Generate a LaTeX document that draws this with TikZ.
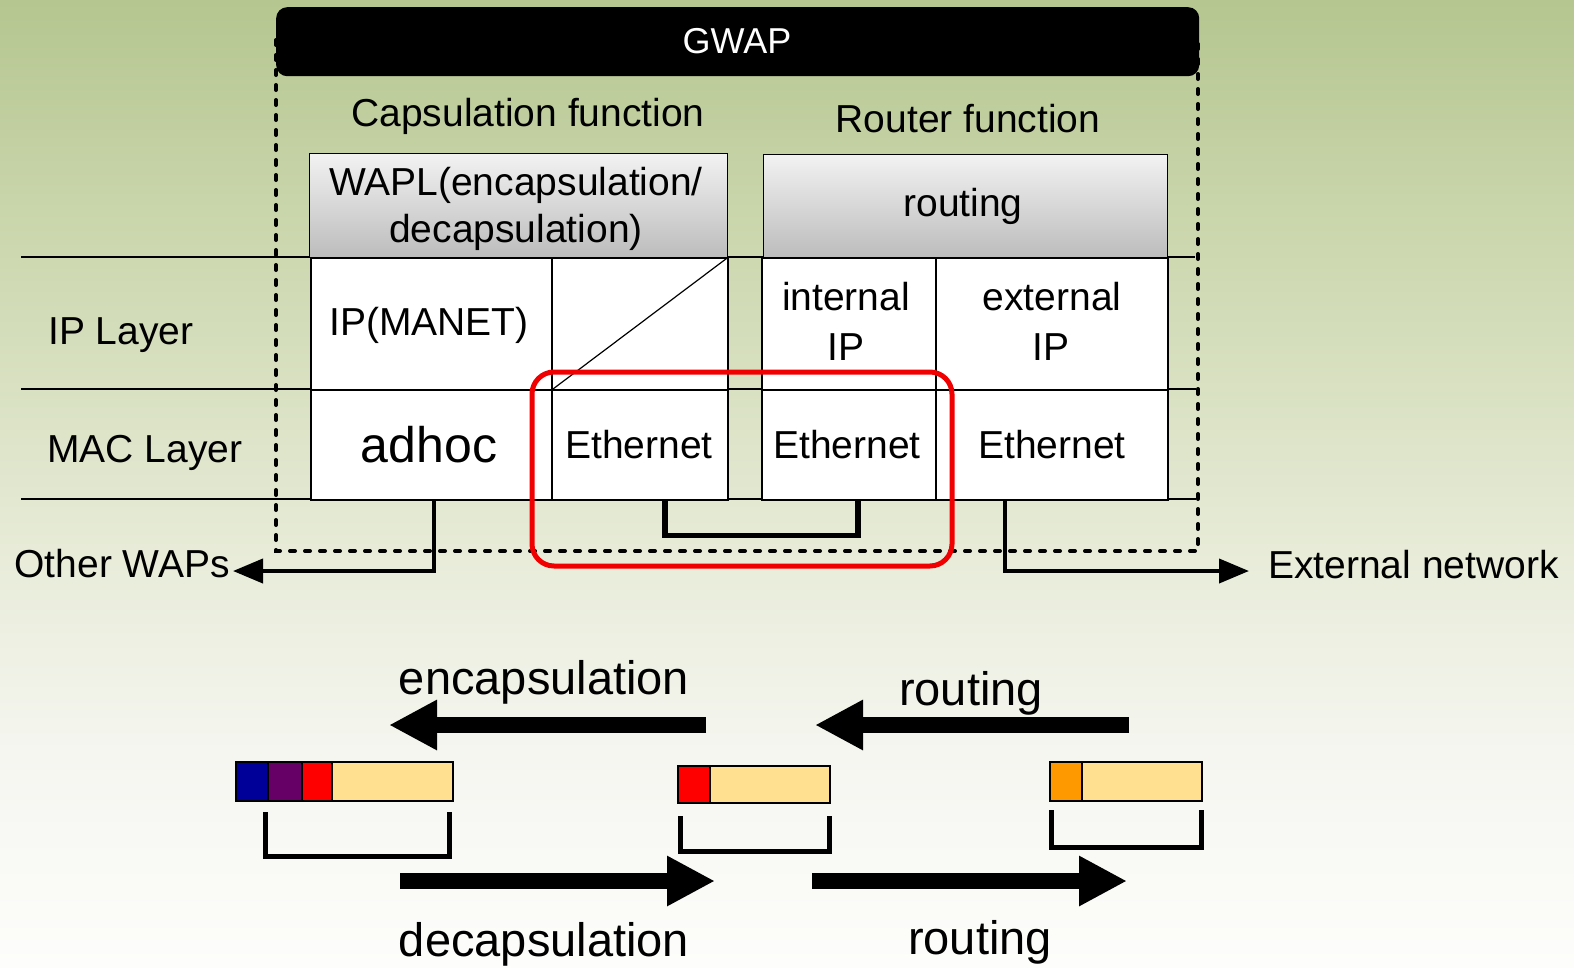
\documentclass[tikz,border=0pt]{standalone}
\usepackage{fontspec}
\setmainfont{Liberation Sans}
\usetikzlibrary{arrows.meta}

\definecolor{bgtop}{RGB}{181,198,144}
\definecolor{bga}{RGB}{205,216,176}
\definecolor{bgb}{RGB}{232,236,217}
\definecolor{bgc}{RGB}{245,246,240}
\definecolor{bgbot}{RGB}{253,253,251}
\definecolor{boxtop}{RGB}{242,242,242}
\definecolor{boxbot}{RGB}{188,188,188}
\definecolor{hdrblue}{RGB}{0,0,153}
\definecolor{hdrpurple}{RGB}{102,0,102}
\definecolor{hdrred}{RGB}{255,0,0}
\definecolor{hdrorange}{RGB}{255,153,0}
\definecolor{payload}{RGB}{255,224,145}
\definecolor{hilite}{RGB}{240,0,0}

\pgfdeclareverticalshading{bgshade}{100bp}{color(0bp)=(bgbot); color(25bp)=(bgbot); color(36bp)=(bgc); color(46bp)=(bgb); color(62bp)=(bga); color(75bp)=(bgtop); color(100bp)=(bgtop)}

\begin{document}
\begin{tikzpicture}[x=1pt,y=-1pt,
  midtext/.style={font=\fontsize{39pt}{44pt}\selectfont, inner sep=0pt, anchor=base},
  bigtext/.style={font=\fontsize{47pt}{54pt}\selectfont, inner sep=0pt, anchor=base},
  gridline/.style={line width=1.5pt},
  cell/.style={draw=black, line width=1.5pt, fill=white, inner sep=0pt, anchor=north west},
  funcbox/.style={draw=black, line width=1.2pt, top color=boxtop, bottom color=boxbot, inner sep=0pt, anchor=north west},
  border/.style={line width=4pt, dash pattern=on 5pt off 10pt, line cap=round},
  conn/.style={line width=4pt, -{Triangle[length=30pt,width=24pt]}},
  link/.style={line width=5.5pt},
  fatarrow/.style={line width=16pt, -{Triangle[length=48pt,width=47pt]}},
  pkt/.style={draw=black, line width=1.5pt},
  brk/.style={line width=5pt},
]
% background
\shade[shading=bgshade] (0,0) rectangle (1574,967);
\useasboundingbox (0,0) rectangle (1574,967);

% dotted outline of the gateway
\draw[border] (276,40) rectangle (1198,551);

% title bar
\node[fill=black, rounded corners=11pt, anchor=north west, minimum width=923pt, minimum height=69pt, inner sep=0pt] (gwap) at (276,7) {};
\node[text=white, font=\fontsize{36pt}{40pt}\selectfont, inner sep=0pt] (gwapT) at (737,41) {GWAP};

% function headings
\node[midtext] (capT) at (528,126) {Capsulation function};
\node[midtext] (rtrT) at (968,132) {Router function};

% layer separators
\draw[gridline] (21,257) -- (1195,257);
\draw[gridline] (21,389) -- (1196,389);
\draw[gridline] (21,499) -- (1196,499);

% function boxes
\node[funcbox, minimum width=418pt, minimum height=104pt] (wapl) at (309,153) {};
\node[midtext] (waplA) at (516,195) {WAPL(encapsulation/};
\node[midtext] (waplB) at (516,242) {decapsulation)};
\node[funcbox, minimum width=404pt, minimum height=103pt] (route) at (763,154) {};
\node[midtext] (routeT) at (963,216) {routing};

% IP layer cells
\node[cell, minimum width=241pt, minimum height=132pt] (manet) at (310,257) {};
\node[cell, minimum width=176pt, minimum height=132pt] (blank) at (551,257) {};
\node[cell, minimum width=174pt, minimum height=132pt] (intip) at (761,257) {};
\node[cell, minimum width=232pt, minimum height=132pt] (extip) at (935,257) {};
\draw[line width=1.2pt] (blank.north east) -- (blank.south west);

% MAC layer cells
\node[cell, minimum width=241pt, minimum height=110pt] (adhoc) at (310,389) {};
\node[cell, minimum width=176pt, minimum height=110pt] (ethA) at (551,389) {};
\node[cell, minimum width=174pt, minimum height=110pt] (ethB) at (761,389) {};
\node[cell, minimum width=232pt, minimum height=110pt] (ethC) at (935,389) {};

% cell texts
\node[midtext] (manetT) at (429,335) {IP(MANET)};
\node[midtext] (intipA) at (846,310) {internal};
\node[midtext] (intipB) at (846,360) {IP};
\node[midtext] (extipA) at (1052,310) {external};
\node[midtext] (extipB) at (1051,360) {IP};
\node[inner sep=0pt, anchor=base, font=\fontsize{50pt}{56pt}\selectfont] (adhocT) at (429,462) {adhoc};
\node[midtext] (ethAT) at (639,458) {Ethernet};
\node[midtext] (ethBT) at (847,458) {Ethernet};
\node[midtext] (ethCT) at (1052,458) {Ethernet};

% layer labels
\node[midtext, anchor=base west] (ipL) at (48,344) {IP Layer};
\node[midtext, anchor=base west] (macL) at (47,462) {MAC Layer};

% link between the two Ethernet interfaces
\draw[link] ([xshift=25pt]ethA.south) -- ++(0,35) -| ([xshift=9pt]ethB.south);

% highlighted pair of interfaces
\draw[hilite, line width=5pt, rounded corners=22pt] (532,372) rectangle (952,566);

% outgoing links
\node[midtext, anchor=base east] (otherW) at (230,577) {Other WAPs};
\node[midtext, anchor=base west] (extnet) at (1268,578) {External network};
\coordinate (owTip) at (233,571);
\coordinate (enTip) at (1249,571);
\draw[conn] ([xshift=2.5pt]adhoc.south) |- (owTip);
\draw[conn] ([xshift=-47pt]ethC.south) |- (enTip);

% packet processing, top direction
\node[bigtext] (encT) at (544,694) {encapsulation};
\node[bigtext] (rtT) at (971,705) {routing};
\draw[fatarrow] (706,725) -- (389,725);
\draw[fatarrow] (1129,725) -- (815,725);

% packets
\draw[pkt, fill=hdrblue] (236,762) rectangle (268,801);
\draw[pkt, fill=hdrpurple] (268,762) rectangle (302,801);
\draw[pkt, fill=hdrred] (302,762) rectangle (332,801);
\draw[pkt, fill=payload] (332,762) rectangle (453,801);

\draw[pkt, fill=hdrred] (678,766) rectangle (710,803);
\draw[pkt, fill=payload] (710,766) rectangle (830,803);

\draw[pkt, fill=hdrorange] (1050,762) rectangle (1082,801);
\draw[pkt, fill=payload] (1082,762) rectangle (1202,801);

% brackets under the packets
\draw[brk] (265,812) |- (449,856) -- (449,812);
\draw[brk] (680,816) |- (829,851) -- (829,816);
\draw[brk] (1051,810) |- (1201,847) -- (1201,810);

% packet processing, bottom direction
\draw[fatarrow] (400,881) -- (715,881);
\draw[fatarrow] (812,881) -- (1127,881);
\node[bigtext] (decT) at (544,956) {decapsulation};
\node[bigtext] (rtT2) at (980,954) {routing};
\end{tikzpicture}
\end{document}
